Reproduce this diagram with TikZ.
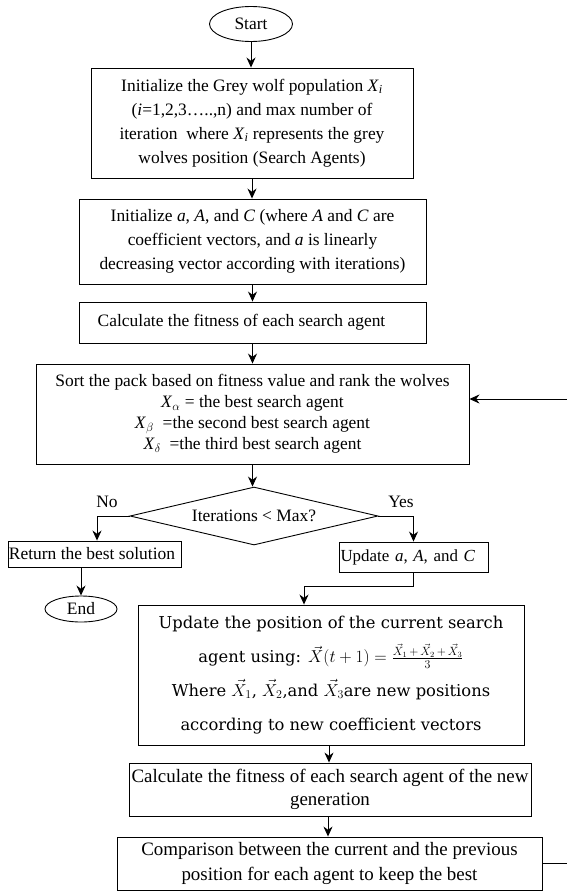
\documentclass[tikz,border=0pt]{standalone}
\usepackage{fontspec}
\setmainfont{Liberation Serif}
\newfontfamily\posfont{DejaVu Serif}
\usetikzlibrary{arrows.meta,shapes.geometric}

\tikzset{
  box/.style={draw, line width=0.9pt, align=center, inner sep=1bp,
    font=\fontsize{17.5}{24}\selectfont},
  term/.style={draw, ellipse, line width=0.9pt, inner sep=0pt,
    font=\fontsize{17.5}{24}\selectfont},
  decide/.style={draw, diamond, aspect=4.3, line width=0.9pt, inner sep=0pt,
    font=\fontsize{17.5}{24}\selectfont},
  arr/.style={-{Stealth[length=10bp,width=9bp]}, line width=0.9pt},
}

\begin{document}
\begin{tikzpicture}[x=1bp,y=-1bp]
\useasboundingbox (0,0) rectangle (567,891);

% main column
\node[term, minimum width=83bp, minimum height=35bp] (start) at (251,24) {Start};
\node[box, minimum width=322bp, minimum height=110bp] (init) at (252,123)
  {Initialize the Grey wolf population \textit{X}\textsubscript{\textit{i}}\\
   (\textit{i}=1,2,3…..,n) and max number of\\
   iteration\ \ where \textit{X}\textsubscript{\textit{i}} represents the grey\\
   wolves position (Search Agents)};
\node[box, minimum width=347bp, minimum height=85bp] (coef) at (252.5,241.5)
  {Initialize \textit{a}, \textit{A}, and \textit{C} (where \textit{A} and \textit{C} are\\
   coefficient vectors, and \textit{a} is linearly\\
   decreasing vector according with iterations)};
\node[box, minimum width=347bp, minimum height=41bp] (fit) at (252.5,322.5)
  {Calculate the fitness of each search agent\hspace{22bp}};
\node[box, minimum width=433bp, minimum height=100bp,
  font=\fontsize{17.5}{21}\selectfont] (sort) at (252.5,414)
  {Sort the pack based on fitness value and rank the wolves\\
   \textit{X}$_\alpha$ = the best search agent\\
   \textit{X}$_\beta$\ \ =the second best search agent\\
   \textit{X}$_\delta$\ \ =the third best search agent};
\node[decide, minimum width=248bp, minimum height=58bp] (test) at (254,516)
  {Iterations < Max?};
\node[font=\fontsize{17.5}{24}\selectfont] (no) at (107,502) {No};
\node[font=\fontsize{17.5}{24}\selectfont] (yes) at (401,502) {Yes};

% no branch
\node[box, minimum width=173bp, minimum height=26bp, inner sep=0pt]
  (ret) at (94.5,554) {Return the best solution\hspace{5bp}};
\node[term, minimum width=72bp, minimum height=26bp] (end) at (81,609) {End};

% yes branch
\node[box, minimum width=149bp, minimum height=30bp, text width=146bp,
  align=left, font=\fontsize{17}{24}\selectfont] (upd) at (413.5,557)
  {Update \textit{a}, \textit{A}, and \textit{C}};
\node[box, minimum width=386bp, minimum height=140bp,
  font=\posfont\fontsize{16.4}{34}\selectfont] (pos) at (331,675)
  {Update the position of the current search\\
   agent using: $\vec{X}(t+1)=\frac{\vec{X}_1\,+\,\vec{X}_2\,+\,\vec{X}_3}{3}$\\
   Where $\vec{X}_1$, $\vec{X}_2$,and $\vec{X}_3$are new positions\\
   according to new coefficient vectors};
\node[box, minimum width=402bp, minimum height=53bp,
  font=\fontsize{19}{23}\selectfont] (calc) at (330,789.5)
  {Calculate the fitness of each search agent of the new\\ generation};
\node[box, minimum width=425bp, minimum height=53bp,
  font=\fontsize{19}{25}\selectfont] (cmp) at (329.5,863.5)
  {Comparison between the current and the previous\\
   position for each agent to keep the best};

% arrows
\draw[arr] (start) -- (start |- init.north);
\draw[arr] (init) -- (init |- coef.north);
\draw[arr] (coef) -- (fit);
\draw[arr] (fit) -- (sort);
\draw[arr] (sort) -- (sort |- test.north);
\draw[arr] (test.west) -| ([xshift=2.5bp]ret.north);
\draw[arr] (ret.south -| end) -- (end);
\draw[arr] (test.east) -| (upd);
\draw[arr] (upd.south) -- ++(0,14) -| ([xshift=-27bp]pos.north);
\draw[arr] ([xshift=-2bp]pos.south) -- ([xshift=-2bp]pos.south |- calc.north);
\draw[arr] ([xshift=-2bp]calc.south) -- ([xshift=-2bp]calc.south |- cmp.north);
\draw[arr] (cmp.east) -- ++(40,0) |- ([yshift=15bp]sort.east);

\end{tikzpicture}
\end{document}
